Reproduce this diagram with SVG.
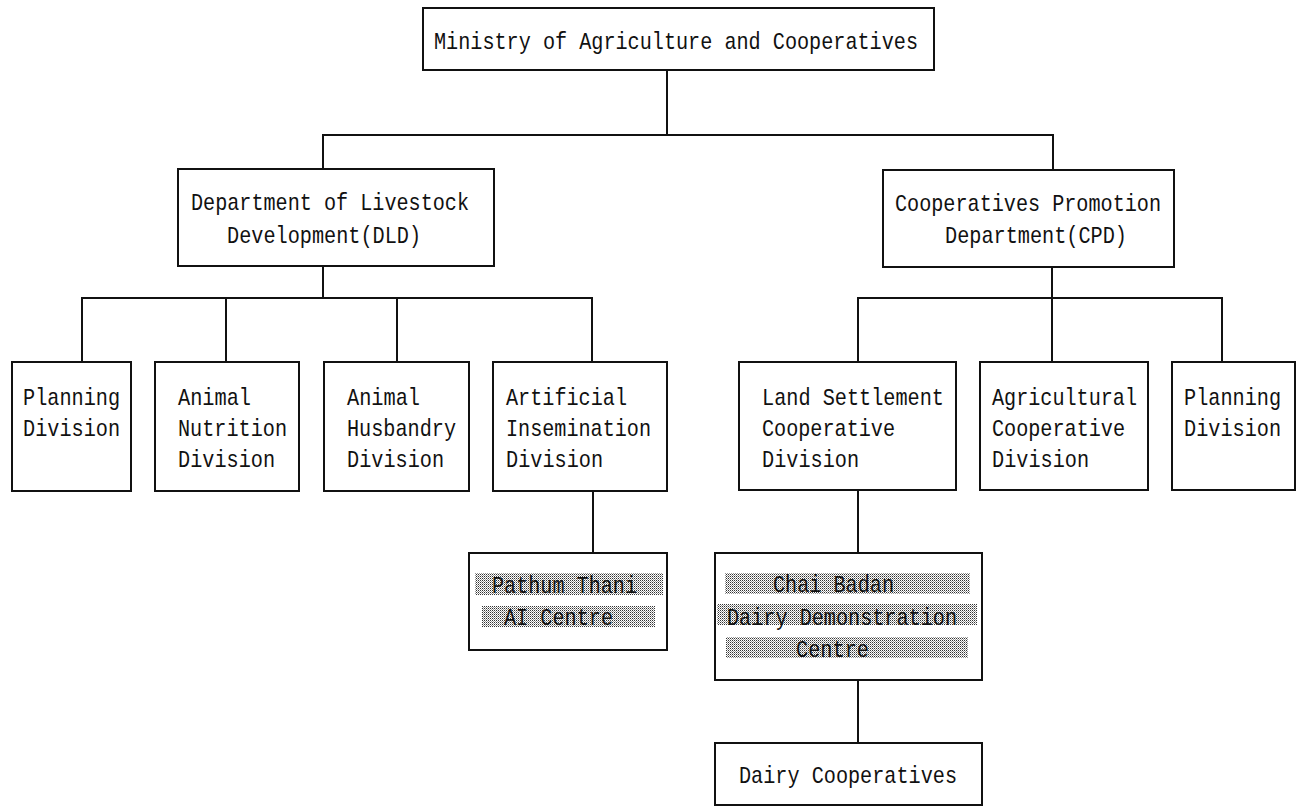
<svg xmlns="http://www.w3.org/2000/svg" width="1301" height="808" viewBox="0 0 1301 808">
<style>
.box{fill:#fff;stroke:#111;stroke-width:2}
.con{fill:none;stroke:#111;stroke-width:2}
.t{font-family:"Liberation Mono","DejaVu Sans Mono",monospace;font-size:24px;fill:#111}
.band{fill:url(#dots)}
</style>
<defs>
<pattern id="dots" width="2" height="2" patternUnits="userSpaceOnUse">
<rect width="2" height="2" fill="#fff"/>
<rect width="1" height="1" fill="#333"/>
<rect x="1" y="1" width="1" height="1" fill="#999"/>
</pattern>
</defs>
<rect width="1301" height="808" fill="#fff"/>
<g id="connectors">
<path class="con" d="M667,70 V135"/>
<path class="con" d="M323,169 V135 H1053 V170"/>
<path class="con" d="M323,266 V298"/>
<path class="con" d="M82,362 V298 H592 V362"/>
<path class="con" d="M226,298 V362"/>
<path class="con" d="M397,298 V362"/>
<path class="con" d="M1052,267 V298"/>
<path class="con" d="M858,362 V298 H1222 V362"/>
<path class="con" d="M1052,298 V362"/>
<path class="con" d="M593,491 V553"/>
<path class="con" d="M858,490 V553"/>
<path class="con" d="M858,680 V743"/>
</g>
<g id="ministry">
<rect class="box" x="423" y="8" width="511" height="62"/>
<text class="t" x="434" y="49" textLength="484" lengthAdjust="spacingAndGlyphs">Ministry of Agriculture and Cooperatives</text>
</g>
<g id="dld">
<rect class="box" x="178" y="169" width="316" height="97"/>
<text class="t" x="191" y="210" textLength="278" lengthAdjust="spacingAndGlyphs">Department of Livestock</text>
<text class="t" x="227" y="243" textLength="194" lengthAdjust="spacingAndGlyphs">Development(DLD)</text>
</g>
<g id="cpd">
<rect class="box" x="883" y="170" width="291" height="97"/>
<text class="t" x="895" y="211" textLength="266" lengthAdjust="spacingAndGlyphs">Cooperatives Promotion</text>
<text class="t" x="945" y="243" textLength="182" lengthAdjust="spacingAndGlyphs">Department(CPD)</text>
</g>
<g id="planning-dld">
<rect class="box" x="12" y="362" width="119" height="129"/>
<text class="t" x="23" y="405" textLength="97" lengthAdjust="spacingAndGlyphs">Planning</text>
<text class="t" x="23" y="436" textLength="97" lengthAdjust="spacingAndGlyphs">Division</text>
</g>
<g id="nutrition">
<rect class="box" x="155" y="362" width="144" height="129"/>
<text class="t" x="178" y="405" textLength="73" lengthAdjust="spacingAndGlyphs">Animal</text>
<text class="t" x="178" y="436" textLength="109" lengthAdjust="spacingAndGlyphs">Nutrition</text>
<text class="t" x="178" y="467" textLength="97" lengthAdjust="spacingAndGlyphs">Division</text>
</g>
<g id="husbandry">
<rect class="box" x="324" y="362" width="145" height="129"/>
<text class="t" x="347" y="405" textLength="73" lengthAdjust="spacingAndGlyphs">Animal</text>
<text class="t" x="347" y="436" textLength="109" lengthAdjust="spacingAndGlyphs">Husbandry</text>
<text class="t" x="347" y="467" textLength="97" lengthAdjust="spacingAndGlyphs">Division</text>
</g>
<g id="ai-division">
<rect class="box" x="493" y="362" width="174" height="129"/>
<text class="t" x="506" y="405" textLength="121" lengthAdjust="spacingAndGlyphs">Artificial</text>
<text class="t" x="506" y="436" textLength="145" lengthAdjust="spacingAndGlyphs">Insemination</text>
<text class="t" x="506" y="467" textLength="97" lengthAdjust="spacingAndGlyphs">Division</text>
</g>
<g id="land-settlement">
<rect class="box" x="739" y="362" width="217" height="128"/>
<text class="t" x="762" y="405" textLength="182" lengthAdjust="spacingAndGlyphs">Land Settlement</text>
<text class="t" x="762" y="436" textLength="133" lengthAdjust="spacingAndGlyphs">Cooperative</text>
<text class="t" x="762" y="467" textLength="97" lengthAdjust="spacingAndGlyphs">Division</text>
</g>
<g id="agricultural">
<rect class="box" x="980" y="362" width="168" height="128"/>
<text class="t" x="992" y="405" textLength="145" lengthAdjust="spacingAndGlyphs">Agricultural</text>
<text class="t" x="992" y="436" textLength="133" lengthAdjust="spacingAndGlyphs">Cooperative</text>
<text class="t" x="992" y="467" textLength="97" lengthAdjust="spacingAndGlyphs">Division</text>
</g>
<g id="planning-cpd">
<rect class="box" x="1172" y="362" width="123" height="128"/>
<text class="t" x="1184" y="405" textLength="97" lengthAdjust="spacingAndGlyphs">Planning</text>
<text class="t" x="1184" y="436" textLength="97" lengthAdjust="spacingAndGlyphs">Division</text>
</g>
<g id="pathum-thani">
<rect class="box" x="469" y="553" width="198" height="97"/>
<rect class="band" x="475" y="573" width="188" height="22"/>
<rect class="band" x="482" y="606" width="173" height="21"/>
<text class="t" x="492" y="593" textLength="145" lengthAdjust="spacingAndGlyphs">Pathum Thani</text>
<text class="t" x="504" y="625" textLength="109" lengthAdjust="spacingAndGlyphs">AI Centre</text>
</g>
<g id="chai-badan">
<rect class="box" x="715" y="553" width="267" height="127"/>
<rect class="band" x="725" y="573" width="245" height="21"/>
<rect class="band" x="717" y="604" width="260" height="21"/>
<rect class="band" x="726" y="637" width="242" height="21"/>
<text class="t" x="773" y="592" textLength="121" lengthAdjust="spacingAndGlyphs">Chai Badan</text>
<text class="t" x="727" y="625" textLength="230" lengthAdjust="spacingAndGlyphs">Dairy Demonstration</text>
<text class="t" x="796" y="657" textLength="73" lengthAdjust="spacingAndGlyphs">Centre</text>
</g>
<g id="dairy-coops">
<rect class="box" x="715" y="743" width="267" height="62"/>
<text class="t" x="739" y="783" textLength="218" lengthAdjust="spacingAndGlyphs">Dairy Cooperatives</text>
</g>
</svg>
